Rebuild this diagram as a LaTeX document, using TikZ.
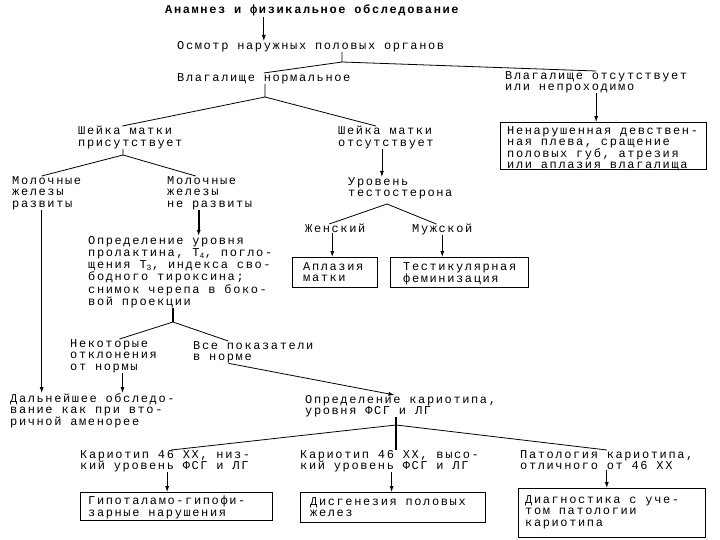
\documentclass[tikz,border=0pt]{standalone}
\usepackage{fontspec}
\setmainfont{Liberation Mono}[LetterSpace=13.5]
\usetikzlibrary{arrows.meta, positioning}

\begin{document}
\begin{tikzpicture}[
    x=1pt, y=-1pt,
    txt/.style={anchor=north west, inner sep=0pt, align=left,
                font=\fontsize{12}{11.5}\selectfont},
    frame/.style={draw, line width=0.9pt, anchor=north west, inner sep=0pt},
    arr/.style={-{Latex[length=6pt,width=4pt]}, line width=0.8pt},
    ln/.style={line width=0.8pt}
]
    \useasboundingbox (0,0) rectangle (720,540);

    \node[txt, font=\fontsize{12}{11.5}\selectfont\bfseries] (anam) at (165,5)
        {Анамнез и физикальное обследование};
    \node[txt] (osm) at (177,41) {Осмотр наружных половых органов};
    \node[txt] (vn) at (177,73) {Влагалище нормальное};
    \node[txt] (vo) at (505,71) {Влагалище отсутствует\\или непроходимо};
    \node[frame, minimum width=206pt, minimum height=47pt] (b1) at (500,122) {};
    \node[txt, font=\fontsize{12}{11}\selectfont] (b1t) at ([shift={(7,4)}]b1.north west)
        {Ненарушенная девствен-\\ная плева, сращение\\половых губ, атрезия\\или аплазия влагалища};

    \node[txt] (sy) at (78,126) {Шейка матки\\присутствует};
    \node[txt] (sn) at (338,126) {Шейка матки\\отсутствует};
    \node[txt] (my) at (12,176) {Молочные\\железы\\развиты};
    \node[txt] (mn) at (167,176) {Молочные\\железы\\не развиты};
    \node[txt] (ts) at (348,177) {Уровень\\тестостерона};
    \node[txt] (zh) at (305,224) {Женский};
    \node[txt] (mu) at (412,224) {Мужской};
    \node[frame, minimum width=85pt, minimum height=30pt] (apl) at (292,257) {};
    \node[txt, font=\fontsize{12}{11}\selectfont] (aplt) at ([shift={(11,5)}]apl.north west) {Аплазия\\матки};
    \node[frame, minimum width=138pt, minimum height=30pt] (tf) at (390,257) {};
    \node[txt, font=\fontsize{12}{11}\selectfont] (tft) at ([shift={(13,5)}]tf.north west)
        {Тестикулярная\\феминизация};

    \node[txt, font=\fontsize{12}{12.2}\selectfont] (op) at (88,236)
        {Определение уровня\\пролактина, Т\textsubscript{4}, погло-\\щения Т\textsubscript{3}, индекса сво-\\бодного тироксина;\\снимок черепа в боко-\\вой проекции};
    \node[txt] (nk) at (70,339) {Некоторые\\отклонения\\от нормы};
    \node[txt] (vs) at (193,341) {Все показатели\\в норме};
    \node[txt] (dl) at (10,393) {Дальнейшее обследо-\\вание как при вто-\\ричной аменорее};
    \node[txt] (ka) at (305,395) {Определение кариотипа,\\уровня ФСГ и ЛГ};

    \node[txt] (k1) at (80,450) {Кариотип 46 XX, низ-\\кий уровень ФСГ и ЛГ};
    \node[txt] (k2) at (300,450) {Кариотип 46 XX, высо-\\кий уровень ФСГ и ЛГ};
    \node[txt] (k3) at (520,450) {Патология кариотипа,\\отличного от 46 XX};
    \node[frame, minimum width=192pt, minimum height=28pt] (b4) at (80,492) {};
    \node[txt] (b4t) at ([shift={(8,4)}]b4.north west) {Гипоталамо-гипофи-\\зарные нарушения};
    \node[frame, minimum width=185pt, minimum height=30pt] (b5) at (300,492) {};
    \node[txt] (b5t) at ([shift={(10,5)}]b5.north west) {Дисгенезия половых\\желез};
    \node[frame, minimum width=187pt, minimum height=49pt] (b6) at (518,488) {};
    \node[txt] (b6t) at ([shift={(7,7)}]b6.north west) {Диагностика с уче-\\том патологии\\кариотипа};

    \coordinate (a1) at (342,62);
    \coordinate (a2) at (265,97);
    \coordinate (a3) at (123,155);
    \coordinate (a4) at (387,204);
    \coordinate (a5) at (173,322);
    \coordinate (a6) at (396,425);

    \draw[arr] (anam.south -| vn.north) -- (osm.north -| vn.north);
    \draw[ln] (osm.south -| a1) -- (a1) -- (vn.north);
    \draw[ln] (a1) -- (vo.north);
    \draw[arr] (vo.south) -- (b1.north -| vo.south);

    \draw[ln] (vn.south -| a2) -- (a2) -- ([xshift=-8pt]sy.north);
    \draw[ln] (a2) -- ([xshift=-10pt]sn.north);
    \draw[ln] (sy.south -| a3) -- (a3) -- ([xshift=-5pt]my.north);
    \draw[ln] (a3) -- ([xshift=-14pt]mn.north);
    \draw[arr] ([xshift=-5pt]my.south) coordinate (p) -- (p |- dl.north);
    \draw[arr, line width=1.8pt] ([xshift=-11pt]mn.south) coordinate (p) -- (p |- op.north);

    \draw[arr] ([xshift=-4pt]sn.south) coordinate (p) -- (p |- ts.north);
    \draw[ln] (a4) -- ([xshift=-6pt]zh.north);
    \draw[ln] (a4) -- ([xshift=-6pt]mu.north);
    \draw[arr] ([xshift=-3pt]zh.south) coordinate (p) -- (p |- apl.north);
    \draw[arr] (mu.south) -- (mu.south |- tf.north);

    \draw[ln, line width=1.5pt] (op.south -| a5) -- (a5);
    \draw[ln] (a5) -- ([xshift=6pt]nk.north);
    \draw[ln] (a5) -- ([xshift=-25pt]vs.north);
    \draw[arr] ([xshift=9pt]nk.south) coordinate (p) -- (p |- dl.north);
    \draw[arr] ([xshift=-25pt]vs.south) -- ([xshift=-6pt]ka.north);

    \draw[ln, line width=1.4pt] (ka.south -| a6) -- (k2.north -| a6);
    \draw[ln] (a6) -- ([xshift=6pt]k1.north);
    \draw[ln] (a6) -- (k3.north);
    \draw[arr] ([xshift=2pt]k1.south) coordinate (p) -- (p |- b4.north);
    \draw[arr] ([xshift=2pt]k2.south) coordinate (p) -- (p |- b5.north);
    \draw[arr] (k3.south) -- (k3.south |- b6.north);
\end{tikzpicture}
\end{document}
